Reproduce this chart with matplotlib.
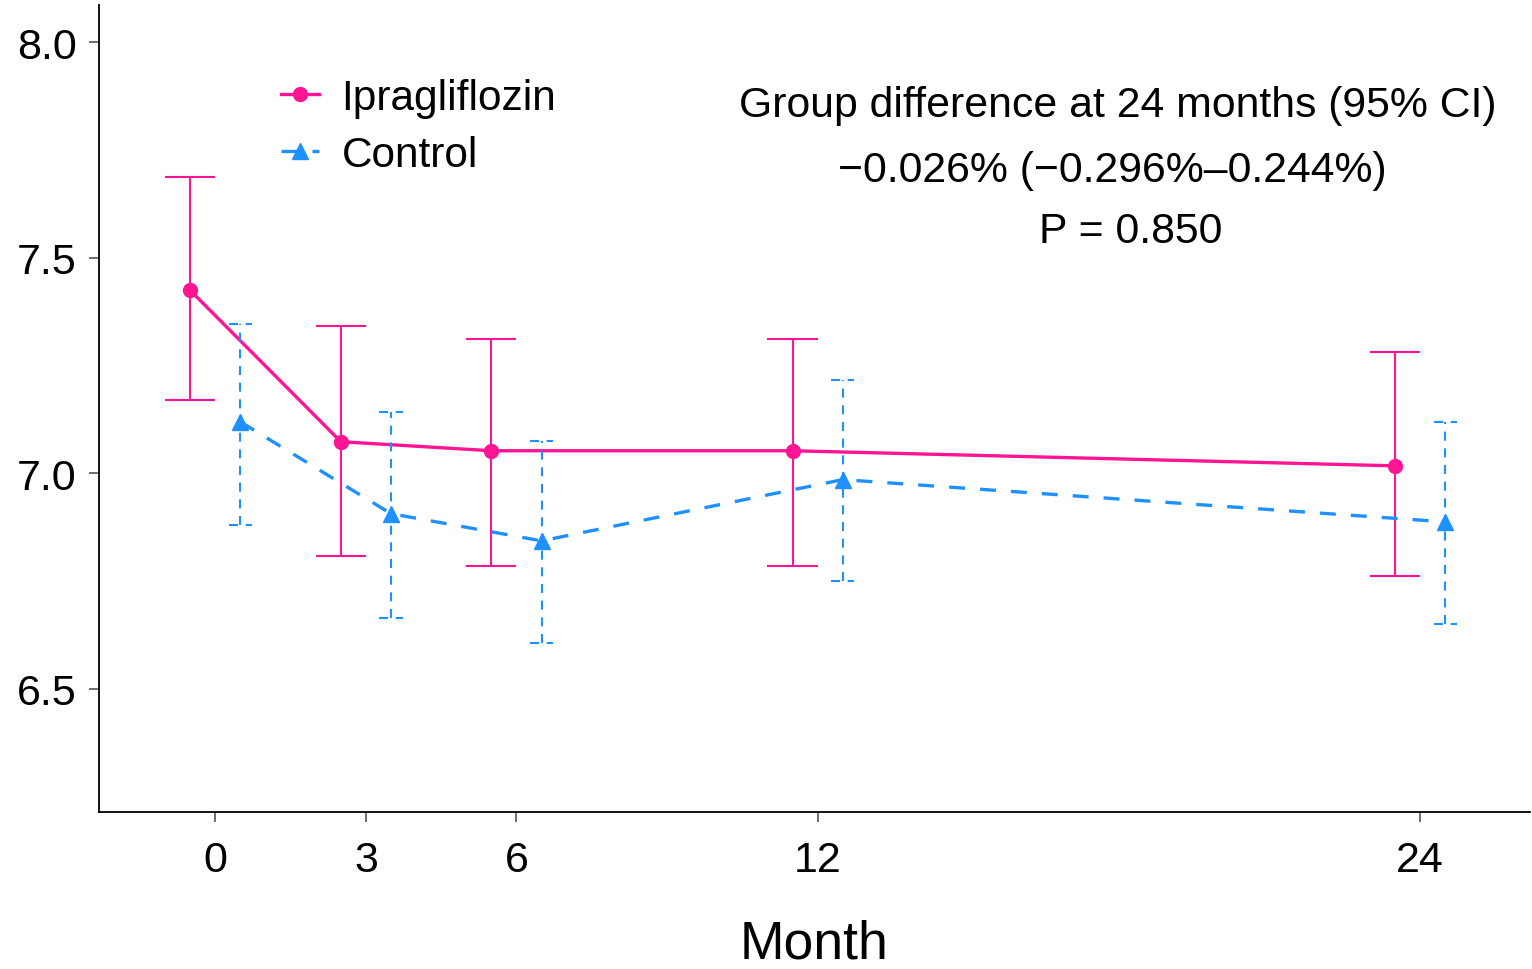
import matplotlib
matplotlib.use("Agg")
import matplotlib.pyplot as plt
import numpy as np

plt.rcParams['font.family'] = ['Liberation Sans', 'DejaVu Sans']
plt.rcParams['lines.scale_dashes'] = False

months = [0, 3, 6, 12, 24]
ipra_mean = [7.424, 7.073, 7.052, 7.052, 7.017]
ipra_upper = [7.687, 7.341, 7.312, 7.312, 7.282]
ipra_lower = [7.170, 6.808, 6.784, 6.784, 6.762]
ctrl_mean = [7.119, 6.906, 6.843, 6.985, 6.887]
ctrl_upper = [7.346, 7.143, 7.075, 7.215, 7.119]
ctrl_lower = [6.880, 6.664, 6.605, 6.750, 6.650]
xticks = [0, 3, 6, 12, 24]
yticks = [6.5, 7.0, 7.5, 8.0]
annot_lines = ["Group difference at 24 months (95% CI)",
               "\u22120.026% (\u22120.296%\u20130.244%)",
               "P = 0.850"]

pink = '#FF1493'
blue = '#1E90FF'
offset = 0.5

fig = plt.figure(figsize=(15.32, 9.70), dpi=100)
ax = fig.add_axes([99/1532, 1-813/970, (1530-99)/1532, (813-6)/970])

xi = np.array(months) - offset
xc = np.array(months) + offset

# Ipragliflozin error bars
ax.vlines(xi, ipra_lower, ipra_upper, color=pink, lw=1.5)
ax.hlines(ipra_upper, xi - 0.5, xi + 0.5, color=pink, lw=1.5)
ax.hlines(ipra_lower, xi - 0.5, xi + 0.5, color=pink, lw=1.5)
ax.plot(xi, ipra_mean, color=pink, lw=2.4, marker='o', ms=10, label='Ipragliflozin')

# Control error bars
dash_eb = (0, (6.5, 5.5))
ax.vlines(xc, ctrl_lower, ctrl_upper, color=blue, lw=1.5, linestyles=[dash_eb])
ax.hlines(ctrl_upper, xc - 0.23, xc + 0.23, color=blue, lw=1.5, linestyles=[dash_eb])
ax.hlines(ctrl_lower, xc - 0.23, xc + 0.23, color=blue, lw=1.5, linestyles=[dash_eb])
ax.plot(xc, ctrl_mean, color=blue, lw=2.4, ls=(0, (11.5, 10.8)), marker='^', ms=12,
        label='Control')

ax.set_xlim(-2.317, 26.19)
ax.set_ylim(6.214, 8.086)
ax.set_xticks(xticks)
ax.set_xticklabels([str(t) for t in xticks])
ax.set_yticks(yticks)
ax.set_yticklabels([f"{t:.1f}" for t in yticks])

for s in ['top', 'right']:
    ax.spines[s].set_visible(False)
for s in ['left', 'bottom']:
    ax.spines[s].set_linewidth(1.3)
    ax.spines[s].set_color('black')

ax.tick_params(axis='both', direction='out', length=7, width=1.2, color='#555555',
               labelsize=31, labelcolor='black')
ax.tick_params(axis='x', pad=13)
ax.tick_params(axis='y', pad=9)

ax.set_xlabel('Month', fontsize=38.5, labelpad=28)

leg = ax.legend(loc='upper left', bbox_to_anchor=(0.115, 0.931), frameon=False,
                fontsize=30.5, handlelength=0.9, handletextpad=0.54, labelspacing=0.40,
                borderaxespad=0)

baselines = [117, 182, 243]
centers = [1118, 1112, 1131]
for txt, yb, xcn in zip(annot_lines, baselines, centers):
    fig.text(xcn/1532, 1 - yb/970, txt, ha='center', va='baseline', fontsize=30.8)

fig.savefig('out.png', dpi=100)
